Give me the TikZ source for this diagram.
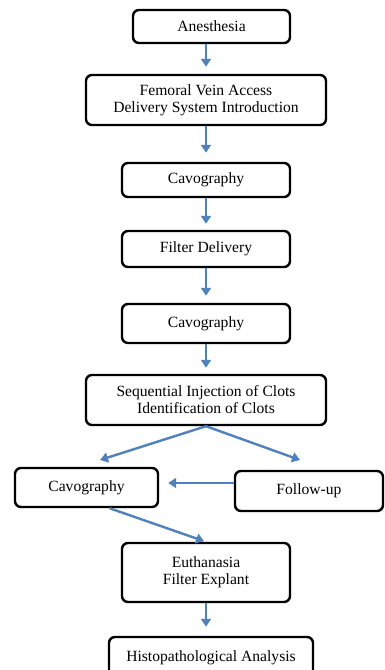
\documentclass[tikz,border=0pt]{standalone}
\usepackage{fontspec}
\setmainfont{Liberation Serif}
\usetikzlibrary{arrows.meta}
\definecolor{arrblue}{RGB}{79,129,189}
\begin{document}
\begin{tikzpicture}[x=1pt,y=-1pt,
  box/.style={draw=black,line width=2.4pt,rounded corners=6pt,fill=white,
    align=center,inner sep=0pt,font=\fontsize{15.6}{17}\selectfont},
  arr/.style={draw=arrblue,line width=2.4pt,-{Triangle[length=8pt,width=10pt]}}]
\useasboundingbox (0,0) rectangle (384,670);
\node[box,minimum width=157pt,minimum height=33pt] (anes) at (211.5,26.5) {Anesthesia};
\node[box,minimum width=240pt,minimum height=50pt] (fem) at (206,100) {Femoral Vein Access\\Delivery System Introduction};
\node[box,minimum width=168pt,minimum height=34pt] (cav1) at (206,180) {Cavography};
\node[box,minimum width=168pt,minimum height=36pt] (filt) at (206,249) {Filter Delivery};
\node[box,minimum width=168pt,minimum height=39pt] (cav2) at (206,323.5) {Cavography};
\node[box,minimum width=240pt,minimum height=50pt] (seq) at (206,400) {Sequential Injection of Clots\\Identification of Clots};
\node[box,minimum width=143pt,minimum height=39pt] (cavL) at (86.5,487.5) {Cavography};
\node[box,minimum width=148pt,minimum height=40pt] (fu) at (309,491) {Follow-up};
\node[box,minimum width=168pt,minimum height=59pt] (euth) at (206,572.5) {Euthanasia\\Filter Explant};
\node[box,minimum width=204pt,minimum height=42pt] (histo) at (211,658) {Histopathological Analysis};
\coordinate (lt) at (100,460);
\coordinate (rt) at (300,460);
\draw[arr,shorten >=7pt] (anes.south -| fem.north) -- (fem.north);
\draw[arr,shorten >=9pt] (fem.south) -- (cav1.north);
\draw[arr,shorten >=6pt] (cav1.south) -- (filt.north);
\draw[arr,shorten >=7pt] (filt.south) -- (cav2.north);
\draw[arr,shorten >=6pt] (cav2.south) -- (seq.north);
\draw[arr] (seq.south) -- (lt);
\draw[arr] (seq.south) -- (rt);
\draw[arr,shorten >=9pt] ([yshift=8pt]fu.west) -- ([yshift=8pt]fu.west -| cavL.east);
\draw[arr,shorten >=2pt] ([xshift=23pt]cavL.south) -- (euth.north);
\draw[arr,shorten >=9pt] (euth.south) -- (histo.north -| euth.south);
\end{tikzpicture}
\end{document}
